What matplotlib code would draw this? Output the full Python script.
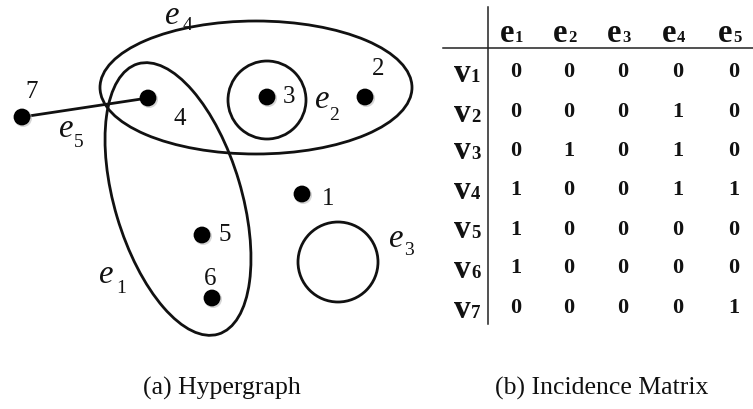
import matplotlib
matplotlib.use("Agg")
import matplotlib.pyplot as plt
from matplotlib.patches import Ellipse, Circle

plt.rcParams['font.family'] = ['Liberation Serif', 'DejaVu Serif']
plt.rcParams['mathtext.fontset'] = 'custom'
plt.rcParams['mathtext.it'] = 'Liberation Serif:italic'
plt.rcParams['mathtext.rm'] = 'Liberation Serif'

# ---------------- data ----------------
node_ids = ['1', '2', '3', '4', '5', '6', '7']
node_x = [302, 365, 267, 148, 202, 212, 22]
node_y = [195, 98, 98, 99, 236, 299, 118]
node_label_x = [328, 378, 289, 180, 225, 210, 32]
node_label_y = [205, 75, 103, 125, 241, 285, 98]

edge_names = ['1', '2', '3', '4', '5']
edge_label_e = [(98, 283), (314, 108), (388, 247), (164, 23.5), (58, 137)]
edge_label_sub = [(116, 293), (329, 120), (404, 255), (183, 30), (74, 147)]

row_labels = ['1', '2', '3', '4', '5', '6', '7']
col_labels = ['1', '2', '3', '4', '5']
incidence = [
    [0, 0, 0, 0, 0],
    [0, 0, 0, 1, 0],
    [0, 1, 0, 1, 0],
    [1, 0, 0, 1, 1],
    [1, 0, 0, 0, 0],
    [1, 0, 0, 0, 0],
    [0, 0, 0, 0, 1],
]
col_x = [516, 569, 623, 678, 734]
col_e_left = [500, 553, 607, 662, 718]
row_num_base = [77, 117, 156, 195, 235, 273, 313]
row_v_base = [82, 122, 159, 199, 238, 278, 318]

# ---------------- figure ----------------
fig = plt.figure(figsize=(7.53, 4.10), dpi=100)
ax = fig.add_axes([0, 0, 1, 1])
ax.set_xlim(0, 753)
ax.set_ylim(410, 0)
ax.axis('off')

lw = 2.0
ink = '#111111'
# hyperedges
ax.add_patch(Ellipse((256, 88.5), 312, 133, angle=0, fill=False, lw=lw, ec=ink))
ax.add_patch(Ellipse((178, 200), 282, 127, angle=73.4, fill=False, lw=lw, ec=ink))
ax.add_patch(Circle((267, 101), 39, fill=False, lw=lw, ec=ink))
ax.add_patch(Circle((338, 263), 40, fill=False, lw=lw, ec=ink))

# e5 (edge between 7 and 4)
i7, i4 = node_ids.index('7'), node_ids.index('4')
ax.plot([node_x[i7], node_x[i4]], [node_y[i7], node_y[i4]], color=ink, lw=lw, zorder=3)

# nodes
for x, y in zip(node_x, node_y):
    ax.add_patch(Circle((x + 1.2, y + 1.2), 8.8, color='#bbbbbb', alpha=0.6, zorder=4, lw=0))
    ax.add_patch(Circle((x, y), 8.4, color='black', zorder=5, lw=0))

for lab, x, y in zip(node_ids, node_label_x, node_label_y):
    ax.text(x, y, lab, fontsize=18, ha='center', va='baseline', color=ink)

for name, (ex, ey), (sx, sy) in zip(edge_names, edge_label_e, edge_label_sub):
    ax.text(ex, ey, r'$e$', fontsize=23.5, ha='left', va='baseline', color=ink)
    ax.text(sx, sy, name, fontsize=14, ha='left', va='baseline', color=ink)

# ---------------- incidence matrix ----------------
ax.plot([488, 488], [8, 325], color='#222222', lw=1.1)
ax.plot([443, 753], [49, 49], color='#222222', lw=1.1)

for lab, xl in zip(col_labels, col_e_left):
    ax.text(xl, 42, 'e', fontsize=23.5, fontweight='bold', ha='left', va='baseline', color=ink)
    ax.text(xl + 15, 42, lab, fontsize=12, fontweight='bold', ha='left', va='baseline', color=ink)

for lab, yb in zip(row_labels, row_v_base):
    ax.text(454, yb, 'v', fontsize=24, fontweight='bold', ha='left', va='baseline', color=ink)
    ax.text(471, yb, lab, fontsize=13.5, fontweight='bold', ha='left', va='baseline', color=ink)

for r, row in enumerate(incidence):
    for c, val in enumerate(row):
        ax.text(col_x[c], row_num_base[r], str(val), fontsize=16, fontweight='bold',
                ha='center', va='baseline', color=ink)

# captions
ax.text(143, 395, '(a) Hypergraph', fontsize=18.5, ha='left', va='baseline', color=ink)
ax.text(495, 395, '(b) Incidence Matrix', fontsize=18.5, ha='left', va='baseline', color=ink)

fig.savefig('out.png', dpi=100)
